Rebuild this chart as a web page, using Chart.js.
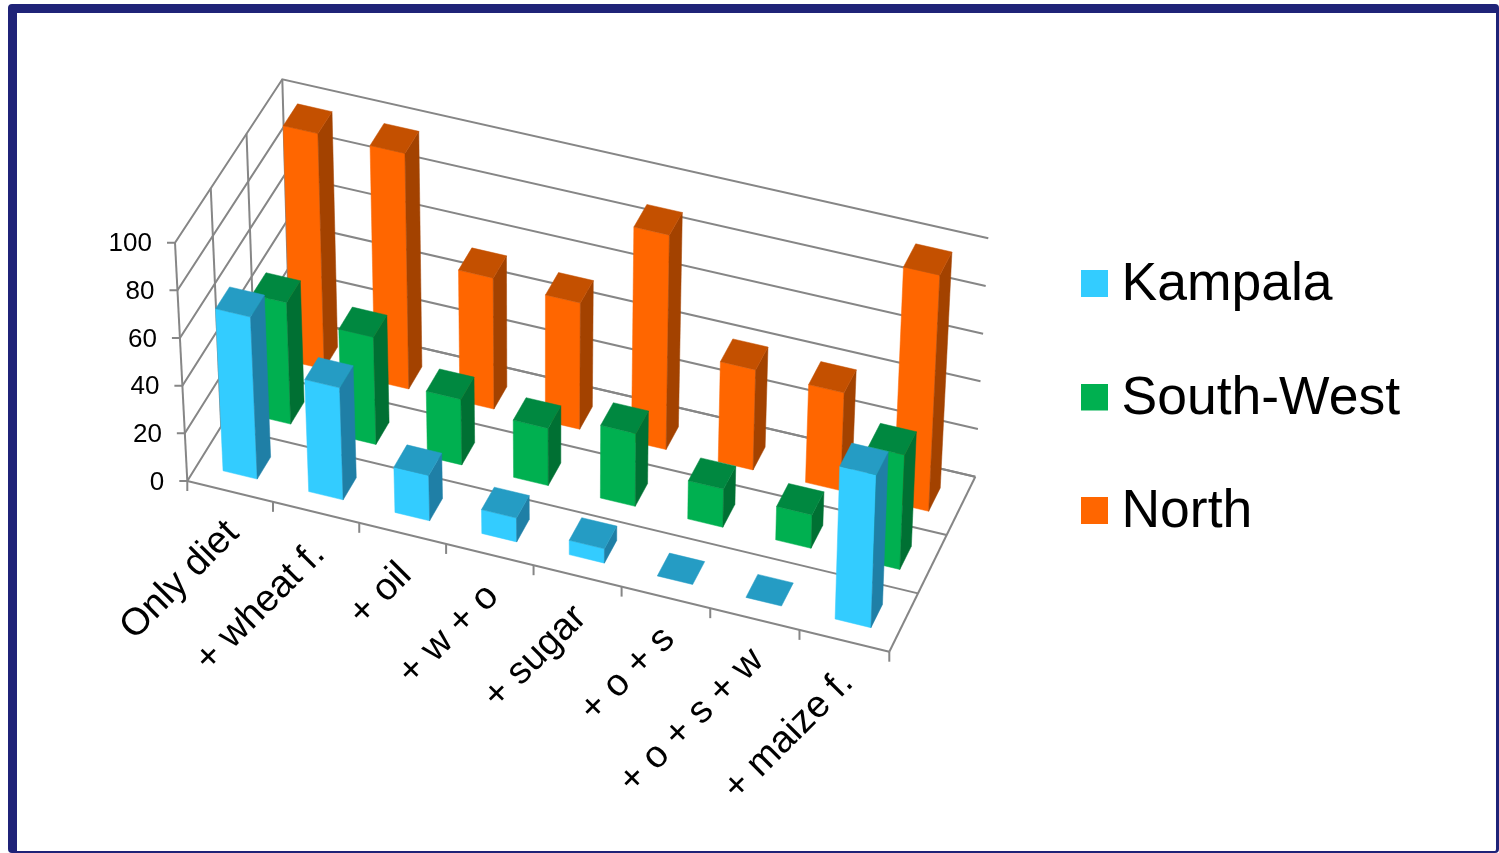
<!DOCTYPE html>
<html>
<head>
<meta charset="utf-8">
<title>Diet combinations by region</title>
<script src="https://cdn.jsdelivr.net/npm/chart.js@4/dist/chart.umd.js"></script>
<style>
  html, body { margin: 0; padding: 0; background: #fff; overflow: hidden; }
  #frame { position: absolute; left: 8px; top: 4px; width: 1491px; height: 849px; box-sizing: border-box;
           border: solid #1f2378; border-width: 9px 3px 2px 9px; border-radius: 4px; }
  #plot { position: absolute; left: 0; top: 0; }
</style>
</head>
<body>
<div id="frame"></div>
<canvas id="plot" width="1499" height="853"></canvas>
<script>
// Chart content
const categories = ['Only diet', '+ wheat f.', '+ oil', '+ w + o', '+ sugar', '+ o + s', '+ o + s + w', '+ maize f.'];
const kampala   = [68, 47, 19, 10, 6, 0, 0, 64];
const southWest = [51, 45, 27.5, 24, 30.5, 16, 14, 48];
const north     = [99, 99, 55, 53, 90, 42, 41, 99];
const seriesNames = ['Kampala', 'South-West', 'North'];
const valueTicks = [0, 20, 40, 60, 80, 100];

// Face colours of each series: front, top, right side
const faces = [
  { front: '#33ccff', top: '#259cc4', side: '#1f7fa6' },
  { front: '#00b050', top: '#008840', side: '#007033' },
  { front: '#ff6600', top: '#c45000', side: '#a34200' }
];

// Screen position of the eight corners of the 3D plot box, indexed [u][v][w]
// (u along the categories, v into the depth, w up the value axis)
const box = {
  c000: [187.3, 481], c100: [889.3, 651.7], c010: [289, 317], c110: [975.3, 476.7],
  c001: [175, 242.7], c101: [898, 413], c011: [282.3, 79.3], c111: [988.3, 238.3]
};
const lerp = (a, b, t) => [a[0] + (b[0] - a[0]) * t, a[1] + (b[1] - a[1]) * t];
function project(uRaw, v, w) {
  const u = uRaw + 0.027 * uRaw * (uRaw - 1);   // slight foreshortening towards the left
  const bottom = lerp(lerp(box.c000, box.c100, u), lerp(box.c010, box.c110, u), v);
  const top = lerp(lerp(box.c001, box.c101, u), lerp(box.c011, box.c111, u), v);
  return lerp(bottom, top, w);
}
function polyline(ctx, pts) {
  ctx.beginPath();
  pts.forEach((p, i) => i ? ctx.lineTo(p[0], p[1]) : ctx.moveTo(p[0], p[1]));
}

const DEPTH_RATIO = 0.4;

// Bar controller that turns every bar the scales have laid out into a projected box
class Bar3DController extends Chart.BarController {
  static id = 'bar3d';
  static defaults = Chart.BarController.defaults;
  static overrides = Chart.BarController.overrides;
  draw() {
    const chart = this.chart, ctx = chart.ctx, area = chart.chartArea;
    const n = chart.data.datasets.length;
    const v0 = (this.index + 0.5 - DEPTH_RATIO / 2) / n;
    const v1 = (this.index + 0.5 + DEPTH_RATIO / 2) / n;
    const col = faces[this.index];
    const fillFace = (pts, color) => {
      polyline(ctx, pts);
      ctx.closePath();
      ctx.fillStyle = color;
      ctx.strokeStyle = color;
      ctx.lineWidth = 0.5;
      ctx.fill();
      ctx.stroke();
    };
    this.getMeta().data.forEach(bar => {
      const u0 = (bar.x - bar.width / 2 - area.left) / area.width;
      const u1 = (bar.x + bar.width / 2 - area.left) / area.width;
      const w = (area.bottom - bar.y) / area.height;
      if (w > 0) {
        fillFace([project(u0, v0, 0), project(u1, v0, 0), project(u1, v0, w), project(u0, v0, w)], col.front);
        fillFace([project(u1, v0, 0), project(u1, v1, 0), project(u1, v1, w), project(u1, v0, w)], col.side);
      }
      fillFace([project(u0, v0, w), project(u1, v0, w), project(u1, v1, w), project(u0, v1, w)], col.top);
    });
  }
}
Chart.register(Bar3DController);

// Walls, floor, tick marks and axis labels of the 3D box
const plotBox = {
  id: 'plotBox',
  beforeDatasetsDraw(chart) {
    const ctx = chart.ctx, area = chart.chartArea;
    const y = chart.scales.y, x = chart.scales.x;
    const n = chart.data.datasets.length;
    const labels = x.getLabels();
    ctx.save();
    ctx.strokeStyle = '#868686';
    ctx.lineWidth = 2;
    const line = (a, b) => { polyline(ctx, [a, b]); ctx.stroke(); };

    // value gridlines on the left and back walls, with their ticks
    ctx.fillStyle = '#000';
    ctx.font = '26px "Liberation Sans"';
    ctx.textAlign = 'right';
    ctx.textBaseline = 'middle';
    valueTicks.forEach(val => {
      const w = (area.bottom - y.getPixelForValue(val)) / area.height;
      const a = project(0, 0, w), b = project(0, 1, w), c = project(1, 1, w);
      polyline(ctx, [[a[0] - 8, a[1]], a, b, c]);
      ctx.stroke();
      ctx.fillText(String(val), a[0] - 23, a[1] + 1.5);
    });

    // floor lines and wall uprights at the series boundaries
    for (let k = 0; k <= n; k++) {
      const v = k / n;
      line(project(0, v, 0), project(1, v, 0));
      line(project(0, v, 0), project(0, v, 1));
    }
    line(project(1, 0, 0), project(1, 1, 0));

    // category ticks and slanted category labels
    const slots = labels.length;
    for (let i = 0; i <= slots; i++) {
      const p = project(i / slots, 0, 0);
      line(p, [p[0], p[1] + 10]);
    }
    ctx.font = '38px "Liberation Sans"';
    labels.forEach((text, i) => {
      const p = project((i + 0.5) / slots, 0, 0);
      ctx.save();
      ctx.translate(p[0] + 3, p[1] + 36);
      ctx.rotate(-Math.PI / 4);
      ctx.fillText(text, 0, 0);
      ctx.restore();
    });
    ctx.restore();
  }
};

// Legend swatch: a square in the top of its canvas, lifted slightly against the text
function swatch(color) {
  const c = document.createElement('canvas');
  c.width = 27;
  c.height = 31;
  const g = c.getContext('2d');
  g.fillStyle = color;
  g.fillRect(0, 0, 27, 27);
  return c;
}

const seriesValues = [kampala, southWest, north];
new Chart(document.getElementById('plot'), {
  type: 'bar3d',
  data: {
    labels: categories,
    datasets: seriesNames.map((name, i) => ({
      label: name,
      data: seriesValues[i],
      backgroundColor: faces[i].front,
      clip: false
    }))
  },
  options: {
    responsive: false,
    animation: false,
    events: [],
    grouped: false,
    categoryPercentage: 0.4,
    barPercentage: 1,
    layout: { padding: { right: 89, bottom: 55 } },
    scales: {
      x: { display: false },
      y: { display: false, min: 0, max: 100, ticks: { stepSize: 20 } }
    },
    plugins: {
      tooltip: { enabled: false },
      legend: {
        position: 'right',
        labels: {
          usePointStyle: true,
          boxWidth: 0.1,
          boxHeight: 27,
          padding: 60,
          color: '#000',
          font: { family: '"Liberation Sans"', size: 53.5 },
          generateLabels(chart) {
            return Chart.defaults.plugins.legend.labels.generateLabels(chart)
              .map((item, i) => ({ ...item, pointStyle: swatch(faces[i].front) }));
          }
        }
      }
    }
  },
  plugins: [plotBox]
});
</script>
</body>
</html>
